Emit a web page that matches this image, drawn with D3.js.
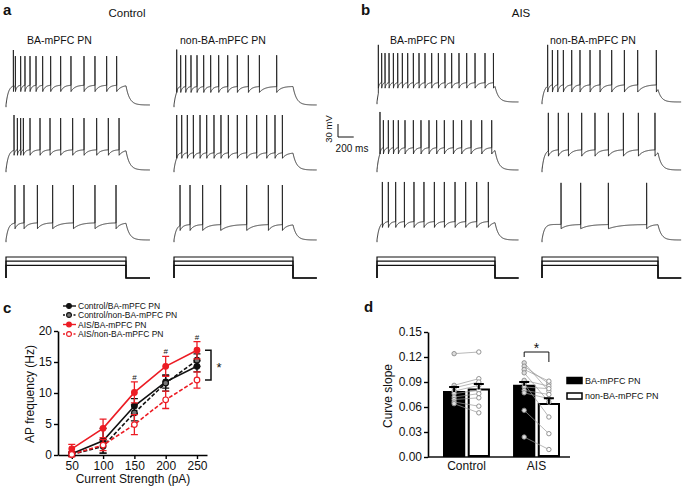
<!DOCTYPE html>
<html><head><meta charset="utf-8">
<script src="https://cdn.jsdelivr.net/npm/d3@7"></script>
<style>
body{margin:0;background:#fff}
svg{display:block}
text{font-family:"Liberation Sans",Arial,Helvetica,sans-serif;fill:#111}
</style>
</head><body>
<svg id="fig" width="685" height="488"></svg>
<script>
// ---------------- DATA ----------------
const conditions = ["Control", "AIS"];
const cellTypes = ["BA-mPFC PN", "non-BA-mPFC PN"];
const stimCurrents = [250, 200, 150];          // pA, one per trace row (top to bottom)
const stimDurationMs = 1500;
const traceEndMs = 1800;
const restMV = -70;

// spike times (ms after step onset), rows = stimCurrents
const spikesControlBA = [
  [92,117,183,237,300,375,458,558,683,812,975,1112,1258,1383],
  [100,142,183,217,300,425,550,683,833,975,1133,1279,1413],
  [112,225,392,583,842,1112,1375]
];
const spikesControlNonBA = [
  [34,84,147,214,290,374,462,563,677,798,937,1076,1294],
  [34,97,168,244,328,412,504,592,685,798,916,1042,1168,1273,1366],
  [76,202,361,588,916,1189,1366]
];
const spikesAISBA = [
  [17,59,102,153,208,263,322,390,462,534,610,695,780,864,949,1042,1140,1246,1373,1480],
  [38,81,144,208,271,356,462,559,661,758,856,970,1076,1195,1331,1458],
  [68,144,237,348,470,597,729,856,992,1127,1267,1415]
];
const spikesAISNonBA = [
  [73,134,203,276,384,491,621,750,901,1065,1237,1478],
  [82,211,341,513,685,858,1052,1246,1461],
  [246,500,858,1353]
];
// membrane levels (mV) per row: inter-spike plateau, AHP trough, spike peak, first spike peak
const vThControlBA = [-24,-23,-30],  vAhpControlBA = [-39,-36,-44],  vPkControlBA = [43,50,57],  vPk1ControlBA = [57,57,57];
const vThControlNonBA = [-27,-30,-34], vAhpControlNonBA = [-41,-43,-48], vPkControlNonBA = [45,57,57], vPk1ControlNonBA = [58,57,57];
const vThAISBA = [-25,-18,-27], vAhpAISBA = [-38,-33,-41], vPkAISBA = [43,45,64], vPk1AISBA = [62,64,64];
const vThAISNonBA = [-30,-23,-34], vAhpAISNonBA = [-47,-38,-44], vPkAISNonBA = [50,62,62], vPk1AISNonBA = [62,62,62];
const scaleBarMV = 30, scaleBarMs = 200;

// panel c
const currents = [50, 100, 150, 200, 250];
const freqControlBA    = [0.2, 2.3, 7.9, 11.8, 14.3];
const semControlBA     = [0.3, 2.0, 1.2, 1.0, 0.9];
const freqControlNonBA = [0.1, 1.4, 6.8, 11.6, 15.3];
const semControlNonBA  = [0.3, 1.1, 1.3, 1.3, 1.0];
const freqAISBA        = [1.0, 4.3, 10.1, 14.3, 16.9];
const semAISBA         = [0.7, 1.5, 1.7, 1.6, 1.4];
const freqAISNonBA     = [0.1, 1.6, 4.9, 8.9, 12.1];
const semAISNonBA      = [0.4, 0.9, 1.6, 1.4, 1.3];
const seriesNamesC = ["Control/BA-mPFC PN", "Control/non-BA-mPFC PN", "AIS/BA-mPFC PN", "AIS/non-BA-mPFC PN"];
const hashCurrents = [150, 200, 250];
const freqTicks = [0, 5, 10, 15, 20];

// panel d
const slopeTicks = [0, 0.03, 0.06, 0.09, 0.12, 0.15];
const meanSlope = [[0.078, 0.081], [0.0855, 0.0636]];   // [condition][cellType]
const semSlope  = [[0.0060, 0.0066], [0.0046, 0.0068]];
const slopeControlBA    = [0.124, 0.086, 0.083, 0.079, 0.076, 0.072, 0.069, 0.066, 0.064];
const slopeControlNonBA = [0.126, 0.094, 0.090, 0.086, 0.080, 0.076, 0.071, 0.061, 0.053];
const slopeAISBA        = [0.113, 0.109, 0.105, 0.101, 0.092, 0.088, 0.084, 0.080, 0.077, 0.056, 0.024];
const slopeAISNonBA     = [0.079, 0.088, 0.091, 0.066, 0.085, 0.048, 0.082, 0.075, 0.070, 0.028, 0.009];

// ---------------- DRAW ----------------
const svg = d3.select("#fig");
const RED = "#ec1c24";

function txt(g, s, x, y, size, opts = {}) {
  const t = g.append("text").attr("x", x).attr("y", y).attr("font-size", size).text(s);
  if (opts.anchor) t.attr("text-anchor", opts.anchor);
  if (opts.bold) t.attr("font-weight", "bold");
  if (opts.rotate) t.attr("transform", `rotate(-90,${x},${y})`);
  return t;
}

// panel letters & headers
txt(svg, "a", 3, 15, 15, {bold: true});
txt(svg, "b", 361, 15, 15, {bold: true});
txt(svg, "c", 3, 313, 15, {bold: true});
txt(svg, "d", 364, 312, 15, {bold: true});

// ---- traces (panels a, b) ----
const colSpans = {            // step onset / offset x per column
  "Control|BA-mPFC PN": [6, 126],
  "Control|non-BA-mPFC PN": [174, 293],
  "AIS|BA-mPFC PN": [377, 495],
  "AIS|non-BA-mPFC PN": [542, 658]
};
const restY = {Control: [105, 170, 240], AIS: [102, 170, 240]};
const PX_PER_MV = 0.433;
const stimBaseY = 278;

const traceData = {
  "Control|BA-mPFC PN": {sp: spikesControlBA, th: vThControlBA, ahp: vAhpControlBA, pk: vPkControlBA, pk1: vPk1ControlBA},
  "Control|non-BA-mPFC PN": {sp: spikesControlNonBA, th: vThControlNonBA, ahp: vAhpControlNonBA, pk: vPkControlNonBA, pk1: vPk1ControlNonBA},
  "AIS|BA-mPFC PN": {sp: spikesAISBA, th: vThAISBA, ahp: vAhpAISBA, pk: vPkAISBA, pk1: vPk1AISBA},
  "AIS|non-BA-mPFC PN": {sp: spikesAISNonBA, th: vThAISNonBA, ahp: vAhpAISNonBA, pk: vPkAISNonBA, pk1: vPk1AISNonBA}
};

const TAU_ON = 30, TAU_OFF = 45;
function vAt(t, spikes, th, ahp) {
  if (t > stimDurationMs) {
    const ve = vAt(stimDurationMs, spikes, th, ahp);
    return restMV + (ve - restMV) * Math.exp(-(t - stimDurationMs) / TAU_OFF);
  }
  let k = -1;
  for (let i = 0; i < spikes.length; i++) if (spikes[i] < t) k = i;
  if (k < 0) return restMV + (th - restMV) * (1 - Math.exp(-t / TAU_ON));
  const ts = spikes[k];
  const nxt = k + 1 < spikes.length ? spikes[k + 1] : ts + 180;
  const tau = Math.max(7, 0.3 * (nxt - ts));
  return th - (th - ahp) * Math.exp(-(t - ts) / tau);
}
function tracePoints(spikes, th, ahp, pk, pk1) {
  const pts = [[0, restMV - 5], [0, restMV]];
  let si = 0, last = 0;
  for (let t = 1; t <= traceEndMs; t += 2) {
    while (si < spikes.length && spikes[si] <= t) {
      const ts = spikes[si];
      pts.push([ts, vAt(ts, spikes, th, ahp)]);
      pts.push([ts, si === 0 ? pk1 : pk]);
      pts.push([ts + 1.2, ahp]);
      last = ts + 1.2;
      si++;
    }
    if (t > last) pts.push([t, vAt(t, spikes, th, ahp)]);
  }
  return pts;
}

const traceG = svg.append("g");
conditions.forEach(cond => {
  cellTypes.forEach(cell => {
    const key = cond + "|" + cell;
    const [x0, x1] = colSpans[key];
    const xs = d3.scaleLinear().domain([0, stimDurationMs]).range([x0, x1]);
    const td = traceData[key];
    stimCurrents.forEach((I, r) => {
      const y0 = restY[cond][r];
      const ys = d3.scaleLinear().domain([restMV, restMV + 100]).range([y0, y0 - 100 * PX_PER_MV]);
      const pts = tracePoints(td.sp[r], td.th[r], td.ahp[r], td.pk[r], td.pk1[r]);
      traceG.append("path")
        .attr("d", d3.line().x(d => xs(d[0])).y(d => ys(d[1]))(pts))
        .attr("fill", "none").attr("stroke", "#222").attr("stroke-width", 0.9)
        .attr("stroke-linejoin", "round");
    });
    // current steps
    const yI = d3.scaleLinear().domain([0, 250]).range([stimBaseY, stimBaseY - 21]);
    stimCurrents.forEach(I => {
      const p = [[0, 0], [0, I], [stimDurationMs, I], [stimDurationMs, 0], [traceEndMs, 0]];
      traceG.append("path")
        .attr("d", d3.line().x(d => xs(d[0])).y(d => yI(d[1]))(p))
        .attr("fill", "none").attr("stroke", "#111").attr("stroke-width", 1.2);
    });
  });
});

// headers
txt(svg, "Control", 127, 17, 11.5, {anchor: "middle"});
txt(svg, "AIS", 521, 17, 11.5, {anchor: "middle"});
txt(svg, "BA-mPFC PN", 27, 44, 10.5);
txt(svg, "non-BA-mPFC PN", 180, 44, 10.5);
txt(svg, "BA-mPFC PN", 390, 44, 10.5);
txt(svg, "non-BA-mPFC PN", 550, 44, 10.5);

// scale bar
{
  const xs = d3.scaleLinear().domain([0, stimDurationMs]).range(colSpans["AIS|BA-mPFC PN"]);
  const len = xs(scaleBarMs) - xs(0);
  const hgt = scaleBarMV * PX_PER_MV;
  const bx = 338, by = 137;
  svg.append("path").attr("d", `M${bx},${by - hgt}V${by}H${bx + len}`)
    .attr("fill", "none").attr("stroke", "#111").attr("stroke-width", 1);
  txt(svg, scaleBarMV + " mV", 332, 129, 9.5, {anchor: "middle", rotate: true});
  txt(svg, scaleBarMs + " ms", 352, 152, 10, {anchor: "middle"});
}

// ---- panel c ----
{
  const g = svg.append("g");
  const x = d3.scaleLinear().domain([28, 266]).range([58, 207]);
  const y = d3.scaleLinear().domain([0, 20]).range([455, 331]);
  const ya = g.append("g").attr("transform", "translate(58,0)")
    .call(d3.axisLeft(y).tickValues(freqTicks).tickSize(4).tickPadding(2).tickSizeOuter(0));
  const xa = g.append("g").attr("transform", "translate(0,455)")
    .call(d3.axisBottom(x).tickValues(currents).tickSize(4).tickPadding(2).tickSizeOuter(0));
  [ya, xa].forEach(a => {
    a.selectAll("text").attr("font-size", 12).attr("font-family", null).style("fill", "#111");
    a.select(".domain").attr("stroke-width", 1.6);
    a.selectAll(".tick line").attr("stroke-width", 1.4);
  });
  txt(g, "Current Strength (pA)", 133, 483, 12, {anchor: "middle"});
  txt(g, "AP frequency (Hz)", 34, 394, 12, {anchor: "middle", rotate: true});

  const series = [
    {name: seriesNamesC[0], v: freqControlBA, e: semControlBA, color: "#111", dash: null, fill: "#111"},
    {name: seriesNamesC[1], v: freqControlNonBA, e: semControlNonBA, color: "#111", dash: "4,2", fill: "#777"},
    {name: seriesNamesC[2], v: freqAISBA, e: semAISBA, color: RED, dash: null, fill: RED},
    {name: seriesNamesC[3], v: freqAISNonBA, e: semAISNonBA, color: RED, dash: "4,2", fill: "#fff"}
  ];
  const line = d3.line().x((d, i) => x(currents[i])).y(d => y(d));
  series.forEach(s => {
    const sg = g.append("g");
    s.v.forEach((v, i) => {
      const cx = x(currents[i]);
      sg.append("path").attr("d", `M${cx},${y(v - s.e[i])}V${y(v + s.e[i])}M${cx - 3.5},${y(v - s.e[i])}h7M${cx - 3.5},${y(v + s.e[i])}h7`)
        .attr("stroke", s.color).attr("stroke-width", 1.3).attr("fill", "none");
    });
    sg.append("path").attr("d", line(s.v)).attr("fill", "none").attr("stroke", s.color)
      .attr("stroke-width", 1.6).attr("stroke-dasharray", s.dash);
    s.v.forEach((v, i) => {
      sg.append("circle").attr("cx", x(currents[i])).attr("cy", y(v)).attr("r", 2.8)
        .attr("fill", s.fill).attr("stroke", s.color).attr("stroke-width", 1.2);
    });
  });
  // # marks
  hashCurrents.forEach(c => {
    const i = currents.indexOf(c);
    txt(g, "#", x(c), y(freqAISBA[i] + semAISBA[i]) - 2, 8, {anchor: "middle"});
  });
  // bracket
  const bx = 211;
  g.append("path").attr("d", `M${bx - 6},${y(16.9)}H${bx}V${y(12.1)}H${bx - 6}`)
    .attr("fill", "none").attr("stroke", "#111").attr("stroke-width", 1.5);
  txt(g, "*", bx + 8, y(14.5) + 7, 13, {anchor: "middle"});

  // legend
  const ly = [306, 315, 324.5, 334];
  series.forEach((s, k) => {
    const lg = g.append("g");
    lg.append("path").attr("d", `M63,${ly[k]}H76`).attr("stroke", s.color).attr("stroke-width", 1.4)
      .attr("stroke-dasharray", s.dash ? "2,1.5" : null);
    lg.append("circle").attr("cx", 69).attr("cy", ly[k]).attr("r", 2.4).attr("fill", s.fill)
      .attr("stroke", s.color).attr("stroke-width", 1.1);
    txt(lg, s.name, 78, ly[k] + 3, 8.5);
  });
}

// ---- panel d ----
{
  const g = svg.append("g");
  const y = d3.scaleLinear().domain([0, 0.15]).range([457, 332]);
  const x0 = d3.scaleBand().domain(conditions).range([443, 560]).paddingInner(0.33).paddingOuter(0);
  const x1 = d3.scaleBand().domain(cellTypes).range([0, x0.bandwidth()]).paddingInner(0.1);
  const ya = g.append("g").attr("transform", "translate(428,0)")
    .call(d3.axisLeft(y).tickValues(slopeTicks).tickFormat(d3.format(".2f")).tickSize(4).tickPadding(2).tickSizeOuter(0));
  ya.selectAll("text").attr("font-size", 12).attr("font-family", null).style("fill", "#111");
  ya.select(".domain").attr("stroke-width", 1.6);
  ya.selectAll(".tick line").attr("stroke-width", 1.4);
  g.append("path").attr("d", `M428,457H570`).attr("stroke", "#111").attr("stroke-width", 1.6);
  conditions.forEach(c => txt(g, c, x0(c) + x0.bandwidth() / 2, 470, 12, {anchor: "middle"}));
  txt(g, "Curve slope", 392, 396, 12, {anchor: "middle", rotate: true});

  const pts = {Control: [slopeControlBA, slopeControlNonBA], AIS: [slopeAISBA, slopeAISNonBA]};
  conditions.forEach((c, ci) => {
    const cx = cellTypes.map(t => x0(c) + x1(t) + x1.bandwidth() / 2);
    cellTypes.forEach((t, ti) => {
      g.append("rect").attr("x", x0(c) + x1(t) + 1).attr("y", y(meanSlope[ci][ti]))
        .attr("width", x1.bandwidth() - 2).attr("height", y(0) - y(meanSlope[ci][ti]) - 1)
        .attr("fill", ti === 0 ? "#000" : "#fff").attr("stroke", "#000").attr("stroke-width", 2);
    });
    const [a, b] = pts[c];
    a.forEach((v, i) => {
      g.append("line").attr("x1", cx[0]).attr("y1", y(v)).attr("x2", cx[1]).attr("y2", y(b[i]))
        .attr("stroke", "#999").attr("stroke-width", 0.7);
    });
    [a, b].forEach((arr, ti) => arr.forEach(v => {
      g.append("circle").attr("cx", cx[ti]).attr("cy", y(v)).attr("r", 2.2)
        .attr("fill", ti === 0 ? "#ddd" : "#fff").attr("stroke", "#888").attr("stroke-width", 0.9);
    }));
    cellTypes.forEach((t, ti) => {
      const m = meanSlope[ci][ti], e = semSlope[ci][ti];
      g.append("path").attr("d", `M${cx[ti]},${y(m)}V${y(m + e)}M${cx[ti] - 5},${y(m + e)}h10`)
        .attr("stroke", "#000").attr("stroke-width", 2).attr("fill", "none");
    });
  });
  // significance bracket for AIS
  const ax = cellTypes.map(t => x0("AIS") + x1(t) + x1.bandwidth() / 2);
  g.append("path").attr("d", `M${ax[0]},357V352H${ax[1]}V362`).attr("fill", "none")
    .attr("stroke", "#111").attr("stroke-width", 1);
  txt(g, "*", (ax[0] + ax[1]) / 2, 353, 14, {anchor: "middle"});

  // legend
  cellTypes.forEach((t, ti) => {
    const yy = [377.5, 393][ti];
    g.append("rect").attr("x", 567).attr("y", yy).attr("width", 15).attr("height", 6)
      .attr("fill", ti === 0 ? "#000" : "#fff").attr("stroke", "#000").attr("stroke-width", 1.5);
    txt(g, t, 585, yy + 6, 9);
  });
}
</script>
</body></html>
